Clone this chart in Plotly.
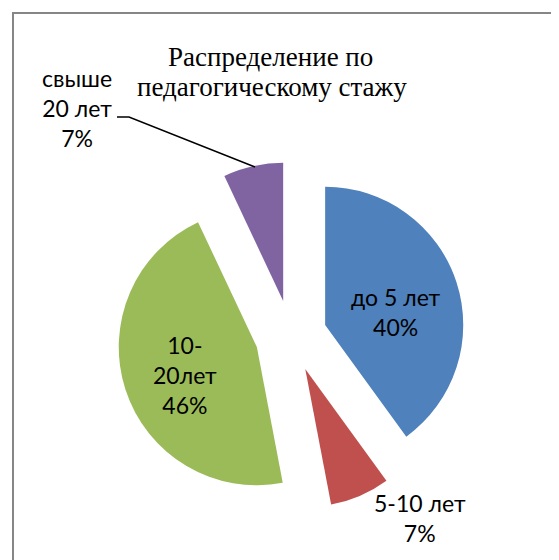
import plotly.graph_objects as go

# ---- data ----
categories = ["до 5 лет", "5-10 лет", "10-20лет", "свыше 20 лет"]
label_text = ["до 5 лет", "5-10 лет", "10-<br>20лет", "свыше<br>20 лет"]
values = [40, 7, 46, 7]
colors = ["#4F81BD", "#C0504D", "#9BBB59", "#8064A2"]
title_lines = ["Распределение по", "педагогическому стажу"]

# ---- layout geometry (page pixels; the page body has an 8px margin) ----
OFF = 8
FW, FH = 559 - OFF, 560 - OFF
LP, TP, PW, PH = 117, 162, 348, 348   # plot area in page coordinates


def px(x):
    return (x - LP) / PW


def py(y):
    return (TP + PH - y) / PH


label_pos = [(396, 312), (420, 518), (185, 375), (77, 108)]
title_pos = [(270, 57), (272, 87)]

total = sum(values)
fig = go.Figure(go.Pie(
    labels=categories,
    values=values,
    sort=False,
    direction="clockwise",
    rotation=0,
    pull=[0.26] * len(values),
    marker=dict(colors=colors, line=dict(width=0)),
    textinfo="none",
    hoverinfo="label+percent",
    showlegend=False,
    domain=dict(x=[0, 1], y=[0, 1]),
))

annotations = []
for txt, v, (x, y) in zip(label_text, values, label_pos):
    pct = round(100 * v / total)
    annotations.append(dict(
        x=px(x), y=py(y), xref="paper", yref="paper",
        text=f"{txt}<br>{pct}%", showarrow=False,
        xanchor="center", yanchor="middle",
        font=dict(family="Lato", size=23, color="black"),
    ))
for line, (x, y) in zip(title_lines, title_pos):
    annotations.append(dict(
        x=px(x), y=py(y), xref="paper", yref="paper",
        text=line, showarrow=False, xanchor="center", yanchor="middle",
        font=dict(family="Liberation Serif", size=27, color="black"),
    ))

shapes = [
    dict(type="rect", xref="paper", yref="paper",
         x0=px(13), x1=px(620), y0=py(13), y1=py(620),
         line=dict(color="#868686", width=2), fillcolor="rgba(0,0,0,0)"),
    dict(type="path", xref="paper", yref="paper",
         path=f"M {px(117)},{py(117)} L {px(129)},{py(117)} L {px(255)},{py(167)}",
         line=dict(color="black", width=1.5)),
]

fig.update_layout(
    width=FW, height=FH, autosize=False,
    margin=dict(l=LP - OFF, r=FW - (LP - OFF) - PW, t=TP - OFF, b=FH - (TP - OFF) - PH),
    paper_bgcolor="white", plot_bgcolor="white",
    annotations=annotations,
    shapes=shapes,
)

fig.write_html("out.html")
